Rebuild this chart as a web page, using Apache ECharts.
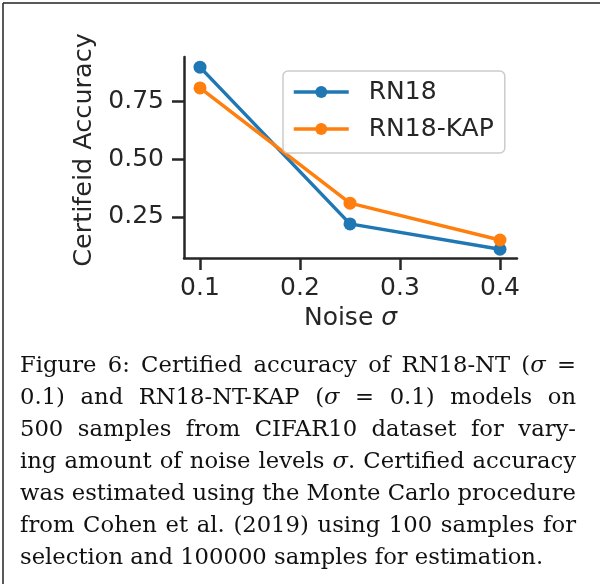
<!DOCTYPE html>
<html><head><meta charset="utf-8">
<script src="https://cdn.jsdelivr.net/npm/echarts@6/dist/echarts.min.js"></script>
<style>html,body{margin:0;padding:0;background:#fff}#c{width:600px;height:584px}</style>
</head><body><div id="c"></div>
<script>
// ---- data ----
const noiseLevels = [0.1, 0.25, 0.4];
const rn18 = [0.90, 0.22, 0.11];
const rn18kap = [0.81, 0.31, 0.15];
const seriesNames = ['RN18', 'RN18-KAP'];
const xTicks = [0.1, 0.2, 0.3, 0.4];
const xTickLabels = ['0.1', '0.2', '0.3', '0.4'];
const yTicks = [0.25, 0.50, 0.75];
const yTickLabels = ['0.25', '0.50', '0.75'];
const xAxisTitle = 'Noise {i|σ}';
const yAxisTitle = 'Certifeid Accuracy';
const captionLines = [
  'Figure 6: Certified accuracy of RN18-NT ({i|σ} =',
  '0.1) and RN18-NT-KAP ({i|σ} = 0.1) models on',
  '500 samples from CIFAR10 dataset for vary-',
  'ing amount of noise levels {i|σ}. Certified accuracy',
  'was estimated using the Monte Carlo procedure',
  'from Cohen et al. (2019) using 100 samples for',
  'selection and 100000 samples for estimation.'
];

// ---- styles ----
const INK = '#262626';
const BLUE = '#1f77b4';
const ORANGE = '#ff7f0e';
const FS = 25;
const CAP_FONT = 'DejaVu Serif';
const CAP_FS = 22.7;

function pickLabel(v, ticks, labels) {
  let best = 0;
  for (let i = 0; i < ticks.length; i++) if (Math.abs(ticks[i] - v) < Math.abs(ticks[best] - v)) best = i;
  return labels[best];
}

// caption layout (justified)
const cv = document.createElement('canvas').getContext('2d');
function segs(word) {
  const out = []; const re = /\{i\|(.*?)\}/g; let last = 0, m;
  while ((m = re.exec(word))) {
    if (m.index > last) out.push([word.slice(last, m.index), false]);
    out.push([m[1], true]); last = re.lastIndex;
  }
  if (last < word.length) out.push([word.slice(last), false]);
  return out;
}
function measure(word) {
  let w = 0;
  for (const [t, it] of segs(word)) {
    cv.font = (it ? 'italic ' : '') + CAP_FS + 'px "' + CAP_FONT + '"';
    w += cv.measureText(t).width;
  }
  return w;
}
cv.font = CAP_FS + 'px "' + CAP_FONT + '"';
const spaceW = cv.measureText(' ').width;
const capLeft = 20, capRight = 576, capY0 = 366, capDy = 32;
const graphics = [
  { type: 'line', shape: { x1: 3, y1: 3, x2: 600, y2: 3 }, style: { stroke: '#222', lineWidth: 1.5 }, silent: true },
  { type: 'line', shape: { x1: 3, y1: 3, x2: 3, y2: 584 }, style: { stroke: '#222', lineWidth: 1.5 }, silent: true }
];
captionLines.forEach((line, li) => {
  const words = line.split(' ');
  const ws = words.map(measure);
  const total = ws.reduce((a, b) => a + b, 0);
  const justify = li < captionLines.length - 1;
  const gap = justify ? (capRight - capLeft - total) / (words.length - 1) : spaceW;
  let x = capLeft;
  words.forEach((w, wi) => {
    graphics.push({
      type: 'text', x: x, y: capY0 + li * capDy, silent: true,
      style: {
        text: w, fill: '#111', fontSize: CAP_FS, fontFamily: CAP_FONT,
        align: 'left', verticalAlign: 'middle', textAlign: 'left', textVerticalAlign: 'middle',
        rich: { i: { fontStyle: 'italic', fontSize: CAP_FS, fontFamily: CAP_FONT, fill: '#111' } }
      }
    });
    x += ws[wi] + gap;
  });
});

const chart = echarts.init(document.getElementById('c'), null, { renderer: 'canvas' });
chart.setOption({
  animation: false,
  backgroundColor: '#fff',
  textStyle: { fontFamily: 'DejaVu Sans', color: INK },
  grid: { left: 184, right: 83, top: 57, bottom: 326, containLabel: false },
  legend: {
    orient: 'vertical', left: 283, top: 71,
    data: seriesNames,
    padding: [7, 11, 10, 9],
    itemWidth: 55, itemHeight: 15, itemGap: 9,
    lineStyle: { width: 3.5 },
    textStyle: { fontSize: FS, color: INK, fontFamily: 'DejaVu Sans', lineHeight: 28, padding: [0, 0, 0, 15] },
    borderColor: '#cccccc', borderWidth: 1.5, borderRadius: 5,
    backgroundColor: 'rgba(255,255,255,0.8)',
    selectedMode: false
  },
  xAxis: {
    type: 'value', min: 0.084, max: 0.417,
    name: xAxisTitle, nameLocation: 'middle', nameGap: 48,
    nameTextStyle: { fontSize: FS, color: INK, fontFamily: 'DejaVu Sans', rich: { i: { fontStyle: 'italic', fontSize: FS, color: INK } } },
    axisLine: { show: true, lineStyle: { color: INK, width: 2.5 } },
    axisTick: { show: true, customValues: xTicks, length: 12, lineStyle: { color: INK, width: 2.5 } },
    axisLabel: { customValues: xTicks, margin: 18, fontSize: FS, color: INK, formatter: v => pickLabel(v, xTicks, xTickLabels) },
    splitLine: { show: false }
  },
  yAxis: {
    type: 'value', min: 0.072, max: 0.944,
    name: yAxisTitle, nameLocation: 'middle', nameGap: 78, nameRotate: 90,
    nameTextStyle: { fontSize: 25.5, color: INK, fontFamily: 'DejaVu Sans', padding: [0, 0, 0, 15] },
    axisLine: { show: true, lineStyle: { color: INK, width: 2.5 } },
    axisTick: { show: true, customValues: yTicks, length: 12, lineStyle: { color: INK, width: 2.5 } },
    axisLabel: { customValues: yTicks, margin: 20, fontSize: FS, color: INK, formatter: v => pickLabel(v, yTicks, yTickLabels) },
    splitLine: { show: false }
  },
  series: [
    {
      name: seriesNames[0], type: 'line', data: noiseLevels.map((x, i) => [x, rn18[i]]),
      symbol: 'circle', symbolSize: 13, showSymbol: true,
      lineStyle: { width: 3.5, color: BLUE }, itemStyle: { color: BLUE }, emphasis: { disabled: true }, z: 2
    },
    {
      name: seriesNames[1], type: 'line', data: noiseLevels.map((x, i) => [x, rn18kap[i]]),
      symbol: 'circle', symbolSize: 13, showSymbol: true,
      lineStyle: { width: 3.5, color: ORANGE }, itemStyle: { color: ORANGE }, emphasis: { disabled: true }, z: 3
    }
  ],
  graphic: graphics
});
</script></body></html>
